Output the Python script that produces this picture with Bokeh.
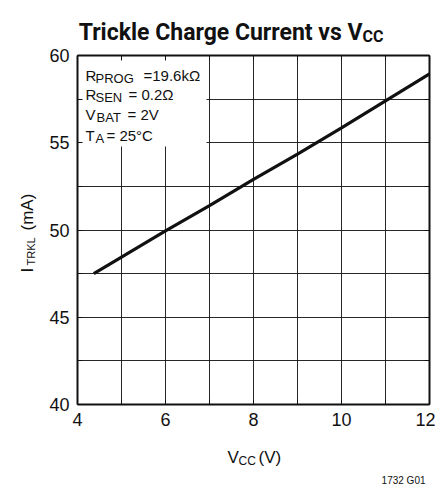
import math
from bokeh.plotting import figure
from bokeh.models import Range1d, SingleIntervalTicker, FixedTicker, LinearAxis, Label
from bokeh.embed import file_html
from bokeh.resources import INLINE

# ---- data ----
vcc = [4.37, 5, 6, 7, 8, 9, 10, 11, 12]
itrkl = [47.5, 48.45, 49.95, 51.4, 52.9, 54.35, 55.85, 57.4, 58.95]
x_ticks = [4, 6, 8, 10, 12]
x_minor = [5, 7, 9, 11]
y_ticks = [40, 45, 50, 55, 60]
y_minor = [42.5, 47.5, 52.5, 57.5]
XMIN, XMAX = 4, 12
YMIN, YMAX = 40, 60

# ---- layout (canvas px) ----
W, H = 435, 485
BL, BR, BT, BB = 77, 429, 55, 404      # plot box edges
SX = (BR - BL) / (XMAX - XMIN)         # px per volt
SY = (BB - BT) / (YMAX - YMIN)         # px per mA

def dx(px):
    return XMIN + (px - BL) / SX

def dy(py):
    return YMIN + (BB - py) / SY

INK = "#111111"
FONT = "Liberation Sans"
TFONT = "Roboto"

p = figure(width=W, height=H, output_backend="svg", toolbar_location=None,
           x_range=Range1d(dx(0), dx(W)), y_range=Range1d(dy(H), dy(0)),
           x_axis_location=None, y_axis_location=None, min_border=0)
p.grid.visible = False
p.background_fill_color = "white"
p.border_fill_color = "white"
p.outline_line_color = None

# ---- grid lines: long inward ticks of bounded axes (under the box) ----
vgrid = LinearAxis(fixed_location=YMIN, bounds=(XMIN, XMAX),
                   ticker=SingleIntervalTicker(interval=1, num_minor_ticks=0),
                   major_tick_in=BB - BT, major_tick_out=0,
                   major_tick_line_color=INK, major_tick_line_width=1,
                   major_tick_line_alpha=0.9, axis_line_color=None,
                   major_label_text_color=None, level="underlay")
p.add_layout(vgrid, "below")
hgrid = LinearAxis(fixed_location=XMIN, bounds=(YMIN, YMAX),
                   ticker=SingleIntervalTicker(interval=2.5, num_minor_ticks=0),
                   major_tick_in=BR - BL, major_tick_out=0,
                   major_tick_line_color=INK, major_tick_line_width=1,
                   major_tick_line_alpha=0.9, axis_line_color=None,
                   major_label_text_color=None, level="underlay")
p.add_layout(hgrid, "left")

# white conditions box
p.quad(left=[XMIN], right=[dx(206)], bottom=[dy(146)], top=[YMAX],
       fill_color="white", line_color=None)

# curve
p.line(vcc, itrkl, line_color=INK, line_width=3.2)

# ---- box axes ----
def box_axis(loc, ticks, minor, bounds, labels, side):
    ax = LinearAxis(fixed_location=loc, bounds=bounds,
                    ticker=FixedTicker(ticks=ticks, minor_ticks=minor),
                    axis_line_color=INK, axis_line_width=2,
                    major_tick_in=5, major_tick_out=0,
                    minor_tick_in=5, minor_tick_out=0,
                    major_tick_line_color=INK, minor_tick_line_color=INK,
                    major_label_text_font=FONT,
                    major_label_text_font_size="18px",
                    major_label_text_color=INK if labels else None,
                    major_label_standoff=8)
    p.add_layout(ax, side)

box_axis(YMIN, x_ticks, x_minor, (XMIN, XMAX), True, "below")
box_axis(XMIN, y_ticks, y_minor, (YMIN, YMAX), True, "left")
box_axis(YMAX, x_ticks, x_minor, (XMIN, XMAX), False, "above")
box_axis(XMAX, y_ticks, y_minor, (YMIN, YMAX), False, "right")

# ---- texts ----
def lab(text, px, py, size, font=FONT, bold=False, align="left", angle=0.0):
    p.add_layout(Label(x=dx(px), y=dy(py), text=text, text_font=font,
                       text_font_size=f"{size}px",
                       text_font_style="bold" if bold else "normal",
                       text_color=INK, text_align=align,
                       text_baseline="alphabetic", angle=angle))

# title
lab("Trickle Charge Current vs V", 362, 32, 23, font=TFONT, bold=True, align="right")
lab("CC", 362, 36, 16, font=TFONT, bold=True)

# conditions
lab("R", 85, 75, 15); lab("PROG", 95, 78, 13); lab("=19.6k\u03a9", 143, 75, 15)
lab("R", 85, 94, 15); lab("SEN", 95, 97, 13); lab("= 0.2\u03a9", 128, 94, 15)
lab("V", 85, 114, 15); lab("BAT", 96, 117, 13); lab("= 2V", 127, 114, 15)
lab("T", 85, 135, 15); lab("A", 95, 138, 13); lab("= 25\u00b0C", 106, 135, 15)

# x axis title
lab("V", 227, 457, 17); lab("CC", 238, 460, 12); lab("(V)", 258, 457, 17)

# y axis title (rotated)
a = math.pi / 2
lab("I", 27, 272, 17, angle=a)
lab("TRKL", 30, 265, 11, angle=a)
lab("(mA)", 27, 230, 17, angle=a)

# figure id
lab("1732 G01", 425, 480, 10, align="right")

open("out.html", "w").write(file_html(p, INLINE))
